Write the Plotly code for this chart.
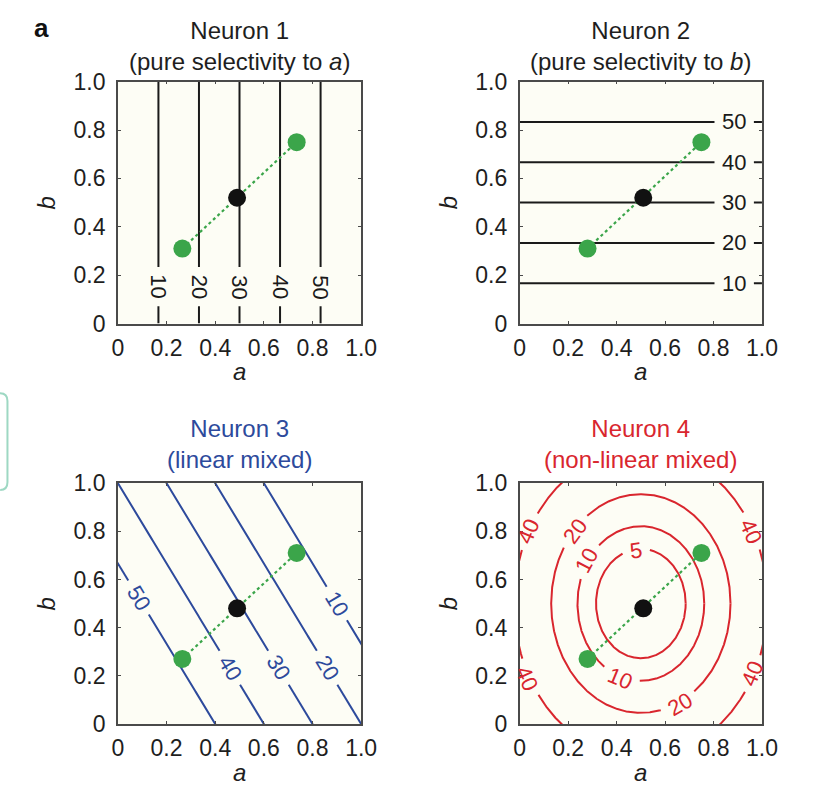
import numpy as np
import plotly.graph_objects as go

# ---- figure geometry (pixels) ----
W, H = 813, 795
COL_X = [(115, 365), (528, 777)]      # left/right edge of each column's plot box
ROW_Y = [(71, 321), (486, 735)]       # top/bottom edge of each row's plot box
BOX_PX = 250                          # plot box side length in pixels

# ---- data ----
TICK_VALS = [0, 0.2, 0.4, 0.6, 0.8, 1.0]
TICK_TEXT = ["0", "0.2", "0.4", "0.6", "0.8", "1.0"]

# firing-rate contour levels per neuron
N1_LEVELS = [10, 20, 30, 40, 50]
N2_LEVELS = [10, 20, 30, 40, 50]
N3_LEVELS = [10, 20, 30, 40, 50]
N4_LEVELS = [5, 10, 20, 40]

# tuning parameters:
#   neuron 1: gain * a, neuron 2: gain * b
#   neuron 3: base - wa*a - wb*b
#   neuron 4: ka*(a-c)^2 + kb*(b-c)^2
N1_GAIN = 60
N2_GAIN = 60
N3_BASE, N3_WA, N3_WB = 70, 50, 30
N4_KA, N4_KB, N4_CENTER = 146, 97, 0.5

# stimulus points (green = two conditions, black = their mean)
PTS_A_COL = [[0.265, 0.49, 0.735], [0.28, 0.51, 0.75]]
PTS_B_ROW = [[0.31, 0.52, 0.75], [0.27, 0.48, 0.71]]

# contour label anchor positions (level, a, b)
N1_LABEL_B = 0.152
N2_LABEL_A = 0.885
N3_LABEL_A = {50: 0.085, 40: 0.46, 30: 0.66, 20: 0.86, 10: 0.9}
N4_LABELS = [(5, 0.48, 0.72), (10, 0.275, 0.68), (20, 0.228, 0.80),
             (40, 0.035, 0.80), (40, 0.955, 0.80), (40, 0.03, 0.19),
             (40, 0.96, 0.21), (10, 0.415, 0.19), (20, 0.66, 0.08)]

TITLES = ["Neuron 1<br>(pure selectivity to <i>a</i>)",
          "Neuron 2<br>(pure selectivity to <i>b</i>)",
          "Neuron 3<br>(linear mixed)",
          "Neuron 4<br>(non-linear mixed)"]
TITLE_MID_Y = [34, 34, 446, 446]      # vertical centre of the two title lines (px)

# ---- styles ----
FONT = "Liberation Sans, Arial, Helvetica, sans-serif"
BG = "#FDFDF5"
INK = "#1e1e1e"
FRAME = "#4a4a4a"
BLUE = "#2D4A9C"
RED = "#D9262E"
GREEN = "#3BA54A"
LINE_COLORS = ["#1a1a1a", "#1a1a1a", BLUE, RED]
TITLE_COLORS = [INK, INK, BLUE, RED]
LABEL_SIZE = 22


def rate(n, a, b):
    if n == 0:
        return N1_GAIN * a + 0 * b
    if n == 1:
        return N2_GAIN * b + 0 * a
    if n == 2:
        return N3_BASE - N3_WA * a - N3_WB * b
    return N4_KA * (a - N4_CENTER) ** 2 + N4_KB * (b - N4_CENTER) ** 2


def iso_curve(n, level, m=1200):
    """Points (a, b) on the iso-rate curve of neuron n at the given level."""
    t = np.linspace(0, 1, m)
    if n == 0:
        return np.full(m, level / N1_GAIN), t
    if n == 1:
        return t, np.full(m, level / N2_GAIN)
    if n == 2:
        a = np.linspace(-0.05, 1.05, m)
        return a, (N3_BASE - N3_WA * a - level) / N3_WB
    th = np.linspace(0, 2 * np.pi, m)
    return (N4_CENTER + np.sqrt(level / N4_KA) * np.cos(th),
            N4_CENTER + np.sqrt(level / N4_KB) * np.sin(th))


def label_angle(n, a, b, h=1e-4):
    ga = (rate(n, a + h, b) - rate(n, a - h, b)) / (2 * h)
    gb = (rate(n, a, b + h) - rate(n, a, b - h)) / (2 * h)
    tx, ty = -gb, ga                       # tangent to the iso-rate curve
    ang = -np.degrees(np.arctan2(ty, tx))  # plotly textangle is clockwise
    while ang > 90:
        ang -= 180
    while ang <= -90:
        ang += 180
    return ang


def px_x(x):
    return x / W


def px_y(y):
    return 1 - y / H


fig = go.Figure()
levels_all = [N1_LEVELS, N2_LEVELS, N3_LEVELS, N4_LEVELS]
annotations = []

for n in range(4):
    r, c = divmod(n, 2)
    xa = "x" if n == 0 else f"x{n + 1}"
    ya = "y" if n == 0 else f"y{n + 1}"
    col = LINE_COLORS[n]

    if n == 0:
        labs = [(lv, lv / N1_GAIN, N1_LABEL_B) for lv in N1_LEVELS]
    elif n == 1:
        labs = [(lv, N2_LABEL_A, lv / N2_GAIN) for lv in N2_LEVELS]
    elif n == 2:
        labs = [(lv, N3_LABEL_A[lv], (N3_BASE - N3_WA * N3_LABEL_A[lv] - lv) / N3_WB)
                for lv in N3_LEVELS]
    else:
        labs = N4_LABELS

    # iso-rate curves, broken where their labels sit
    for lv in levels_all[n]:
        ca, cb = iso_curve(n, lv)
        ca = ca.astype(float).copy()
        cb = cb.astype(float).copy()
        for llv, la, lb in labs:
            if llv != lv:
                continue
            gap = 0.5 * len(str(llv)) * 0.556 * LABEL_SIZE + 8
            d = np.hypot((ca - la) * BOX_PX, (cb - lb) * BOX_PX)
            ca[d < gap] = np.nan
            cb[d < gap] = np.nan
        fig.add_trace(go.Scatter(x=ca, y=cb, xaxis=xa, yaxis=ya, mode="lines",
                                 line=dict(color=col, width=2), connectgaps=False,
                                 hoverinfo="skip", showlegend=False))

    for lv, la, lb in labs:
        annotations.append(dict(
            x=la, y=lb, xref=xa, yref=ya, text=str(lv), showarrow=False,
            textangle=label_angle(n, la, lb),
            font=dict(family=FONT, size=LABEL_SIZE, color=col)))

    # stimulus points and connecting dotted line
    pa = PTS_A_COL[c]
    pb = PTS_B_ROW[r]
    fig.add_trace(go.Scatter(x=[pa[0], pa[2]], y=[pb[0], pb[2]], xaxis=xa, yaxis=ya,
                             mode="lines", line=dict(color=GREEN, width=2.2, dash="dot"),
                             hoverinfo="skip", showlegend=False))
    fig.add_trace(go.Scatter(x=[pa[0], pa[2]], y=[pb[0], pb[2]], xaxis=xa, yaxis=ya,
                             mode="markers", marker=dict(color=GREEN, size=18, line=dict(width=0)),
                             hoverinfo="skip", showlegend=False))
    fig.add_trace(go.Scatter(x=[pa[1]], y=[pb[1]], xaxis=xa, yaxis=ya,
                             mode="markers", marker=dict(color="#111111", size=18, line=dict(width=0)),
                             hoverinfo="skip", showlegend=False))

    # panel titles and axis titles
    x0, x1 = COL_X[c]
    y0, y1 = ROW_Y[r]
    cx = (x0 + x1) / 2
    annotations.append(dict(
        x=px_x(cx), y=px_y(TITLE_MID_Y[n]), xref="paper", yref="paper", text=TITLES[n],
        showarrow=False, xanchor="center", yanchor="middle",
        font=dict(family=FONT, size=24, color=TITLE_COLORS[n])))
    annotations.append(dict(
        x=px_x(cx), y=px_y(y1 + 50), xref="paper", yref="paper", text="<i>a</i>",
        showarrow=False, xanchor="center", yanchor="middle",
        font=dict(family=FONT, size=24, color=INK)))
    annotations.append(dict(
        x=px_x(x0 - 73), y=px_y((y0 + y1) / 2), xref="paper", yref="paper", text="<i>b</i>",
        showarrow=False, xanchor="center", yanchor="middle", textangle=-90,
        font=dict(family=FONT, size=24, color=INK)))

    axis_common = dict(range=[0, 1], tickvals=TICK_VALS, ticktext=TICK_TEXT,
                       ticks="inside", ticklen=3, tickwidth=1, tickcolor=FRAME,
                       showline=True, linecolor=FRAME, linewidth=1.6, mirror="allticks",
                       showgrid=False, zeroline=False, fixedrange=True,
                       tickfont=dict(family=FONT, size=23, color=INK))
    xkey = "xaxis" if n == 0 else f"xaxis{n + 1}"
    ykey = "yaxis" if n == 0 else f"yaxis{n + 1}"
    fig.update_layout({
        xkey: dict(axis_common, domain=[px_x(x0), px_x(x1)], anchor=ya,
                   ticklabelstandoff=3),
        ykey: dict(axis_common, domain=[px_y(y1), px_y(y0)], anchor=xa,
                   ticklabelstandoff=6),
    })
    fig.add_shape(type="rect", xref=f"{xa} domain", yref=f"{ya} domain",
                  x0=0, x1=1, y0=0, y1=1, fillcolor=BG, line=dict(width=0), layer="below")

# panel letter
annotations.append(dict(x=px_x(37), y=px_y(16), xref="paper", yref="paper", text="<b>a</b>",
                        showarrow=False, xanchor="center", yanchor="middle",
                        font=dict(family=FONT, size=26, color="#111111")))

# teal frame edge at the left border
fig.add_shape(type="path", xref="paper", yref="paper",
              path=f"M {px_x(-20)},{px_y(393)} L {px_x(-6)},{px_y(393)} "
                   f"Q {px_x(1.5)},{px_y(393)} {px_x(1.5)},{px_y(401)} "
                   f"L {px_x(1.5)},{px_y(485)} Q {px_x(1.5)},{px_y(493)} {px_x(-6)},{px_y(493)}",
              line=dict(color="#9ED8C3", width=2))

fig.update_layout(width=W, height=H, margin=dict(l=0, r=0, t=0, b=0),
                  paper_bgcolor="white", plot_bgcolor=BG, showlegend=False,
                  annotations=annotations)

fig.write_html("out.html", post_script="document.body.style.margin='0';")
